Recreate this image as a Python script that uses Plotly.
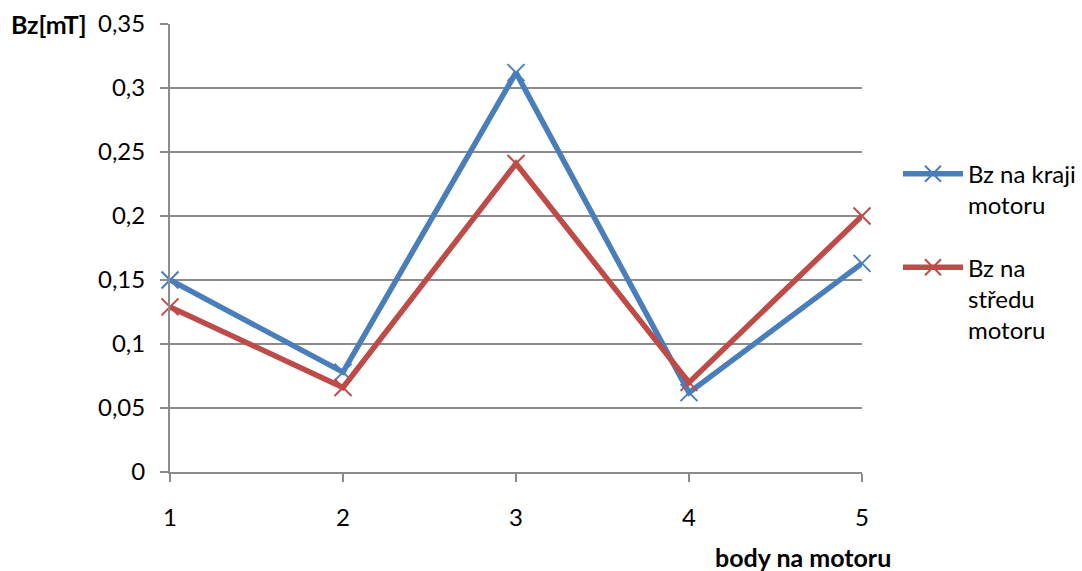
import plotly.graph_objects as go

categories = [1, 2, 3, 4, 5]
bz_kraj = [0.150, 0.078, 0.312, 0.062, 0.163]
bz_stred = [0.129, 0.066, 0.241, 0.070, 0.200]
y_tickvals = [0, 0.05, 0.10, 0.15, 0.20, 0.25, 0.30, 0.35]
y_ticktext = ["0", "0,05", "0,1", "0,15", "0,2", "0,25", "0,3", "0,35"]
x_ticktext = ["1", "2", "3", "4", "5"]
series_names = ["Bz na kraji<br>motoru", "Bz na<br>středu<br>motoru"]

BLUE = "#4A7EBB"
RED = "#BE4B48"
GRID = "#8C8C8C"
FONT = "Lato, 'Liberation Sans', sans-serif"

fig = go.Figure()
for vals, name, col, grp in [(bz_kraj, series_names[0], BLUE, "a"), (bz_stred, series_names[1], RED, "b")]:
    fig.add_trace(go.Scatter(
        x=categories, y=vals, name=name, mode="lines+markers", legendgroup=grp,
        line=dict(color=col, width=5.5),
        marker=dict(symbol="x-thin-open", size=17, color=col, line=dict(color=col, width=2)),
        cliponaxis=False,
    ))

fig.update_layout(
    width=1082, height=571,
    margin=dict(l=170, r=220, t=24, b=99, autoexpand=False),
    paper_bgcolor="white", plot_bgcolor="white",
    font=dict(family=FONT, size=24, color="#000000"),
    showlegend=True,
    legend=dict(x=1.052, y=0.715, xanchor="left", yanchor="top", itemwidth=60,
                valign="top",
                font=dict(size=24), tracegroupgap=28, bgcolor="rgba(0,0,0,0)"),
    xaxis=dict(range=[1, 5], tickvals=categories, ticktext=x_ticktext,
               showgrid=False, zeroline=False, showline=True, linecolor=GRID, linewidth=2,
               ticks="outside", ticklen=8, tickcolor=GRID, tickwidth=2,
               ticklabelstandoff=15),
    yaxis=dict(range=[0, 0.35], tickvals=y_tickvals, ticktext=y_ticktext,
               showgrid=True, gridcolor=GRID, gridwidth=2, zeroline=False,
               showline=True, linecolor=GRID, linewidth=2,
               ticks="outside", ticklen=8, tickcolor=GRID, tickwidth=2,
               ticklabelstandoff=10),
    annotations=[
        dict(text="<b>Bz[mT]</b>", xref="paper", yref="paper", x=-0.175, y=1.0,
             xanchor="center", yanchor="middle", showarrow=False, font=dict(size=25)),
        dict(text="<b>body na motoru</b>", xref="paper", yref="paper", x=1.045, y=-0.19,
             xanchor="right", yanchor="middle", showarrow=False, font=dict(size=25)),
    ],
)

fig.write_html("out.html")
